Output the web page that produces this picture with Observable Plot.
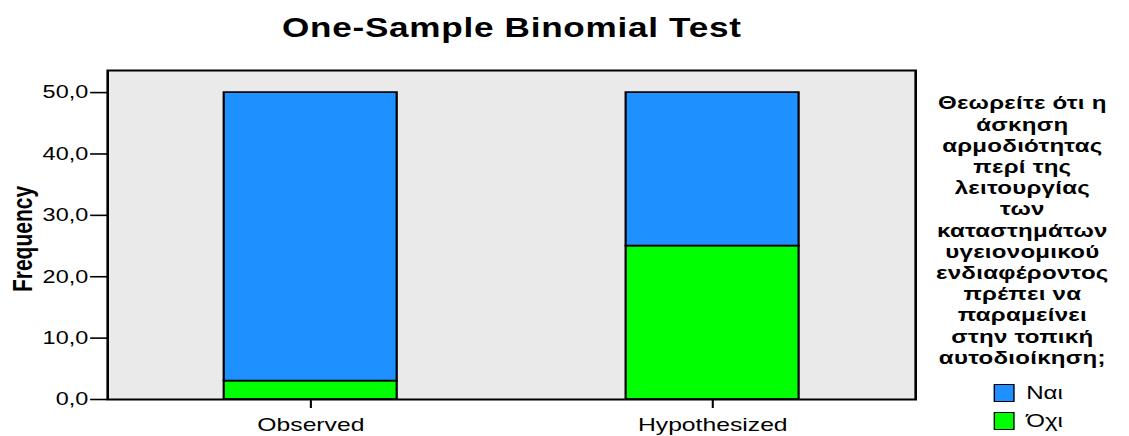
<!DOCTYPE html>
<html>
<head>
<meta charset="utf-8">
<script src="https://cdn.jsdelivr.net/npm/d3@7"></script>
<script src="https://cdn.jsdelivr.net/npm/@observablehq/plot@0.6"></script>
<style>
  html, body { margin: 0; padding: 0; background: #ffffff; }
  #page { width: 1129px; height: 436px; overflow: hidden; position: relative; }
  #wrap {
    position: absolute; left: 0; top: 0; width: 868px; height: 436px;
    transform: scaleX(1.30069); transform-origin: 0 0;
    font-family: "Liberation Sans", Arial, sans-serif; color: #000;
  }
  #chart { position: absolute; left: 0; top: 0; }
  #title {
    position: absolute; left: 0; top: 12.5px; width: 787px; text-align: center;
    font-size: 27px; font-weight: bold; line-height: 30px; letter-spacing: 0.55px; white-space: nowrap;
  }
  #legend-title {
    position: absolute; left: 686px; top: 92.3px; width: 200px; text-align: center;
    font-size: 18.5px; font-weight: bold; line-height: 21.2px; letter-spacing: 0.2px; white-space: nowrap;
  }
  .item { position: absolute; left: 764px; height: 20px; white-space: nowrap; }
  .sw { position: absolute; left: 0; top: 0; width: 14px; height: 16px; border: 1.5px solid #000; }
  .lab { position: absolute; left: 25px; top: -1px; font-size: 18.5px; line-height: 20px; }
</style>
</head>
<body>
<div id="page">
  <div id="wrap">
    <div id="chart"></div>
    <div id="title"></div>
    <div id="legend-title"></div>
    <div id="legend-items"></div>
  </div>
</div>
<script>
// ---- data ----
const categories = ["Observed", "Hypothesized"];
const responses = ["Όχι", "Ναι"];          // stacking order: bottom to top
const oxiValues = [3, 25];
const naiValues = [47, 25];
const yTicks = [0, 10, 20, 30, 40, 50];
const legendOrder = ["Ναι", "Όχι"];
const responseColors = ["#00ff00", "#1e90ff"]; // Όχι, Ναι
const titleText = "One-Sample Binomial Test";
const yLabel = "Frequency";
const legendTitleLines = [
  "Θεωρείτε ότι η", "άσκηση", "αρμοδιότητας", "περί της", "λειτουργίας", "των",
  "καταστημάτων", "υγειονομικού", "ενδιαφέροντος", "πρέπει να", "παραμείνει",
  "στην τοπική", "αυτοδιοίκηση;"
];

// table built from the arrays
const rows = [];
categories.forEach((c, i) => {
  rows.push({category: c, response: "Όχι", value: oxiValues[i]});
  rows.push({category: c, response: "Ναι", value: naiValues[i]});
});

const fmt = d => d.toFixed(1).replace(".", ",");

const chart = Plot.plot({
  width: 868,
  height: 436,
  marginLeft: 82.3,
  marginRight: 164.5,
  marginTop: 70,
  marginBottom: 37,
  style: {fontFamily: '"Liberation Sans", Arial, sans-serif', background: "transparent", color: "#000", overflow: "visible"},
  x: {domain: categories, paddingInner: 0.568, paddingOuter: 0.286},
  y: {domain: [0, 53.6]},
  color: {domain: responses, range: responseColors},
  marks: [
    Plot.frame({fill: "#eaeaea", stroke: null}),
    Plot.barY(rows, Plot.stackY({order: responses, x: "category", y: "value", fill: "response", stroke: "#000", strokeWidth: 1.7})),
    Plot.frame({stroke: "#000", strokeWidth: 2}),
    Plot.axisY({ticks: yTicks, tickFormat: fmt, tickSize: 13, tickPadding: 2, fontSize: 18, label: null, strokeWidth: 1.6}),
    Plot.axisX({tickSize: 9, tickPadding: 9, fontSize: 19, label: null, strokeWidth: 1.6}),
    Plot.text([yLabel], {frameAnchor: "left", dx: -65, dy: 4, rotate: -90, fontSize: 21, fontWeight: "bold", textAnchor: "middle", lineAnchor: "middle"})
  ]
});
document.getElementById("chart").appendChild(chart);

document.getElementById("title").textContent = titleText;
const lt = document.getElementById("legend-title");
legendTitleLines.forEach((t, i) => {
  if (i) lt.appendChild(document.createElement("br"));
  lt.appendChild(document.createTextNode(t));
});
const li = document.getElementById("legend-items");
const itemTops = [384, 412];
legendOrder.forEach((r, i) => {
  const d = document.createElement("div");
  d.className = "item";
  d.style.top = itemTops[i] + "px";
  const sw = document.createElement("div");
  sw.className = "sw";
  sw.style.background = responseColors[responses.indexOf(r)];
  const lab = document.createElement("div");
  lab.className = "lab";
  lab.textContent = r;
  d.appendChild(sw); d.appendChild(lab);
  li.appendChild(d);
});
</script>
</body>
</html>
